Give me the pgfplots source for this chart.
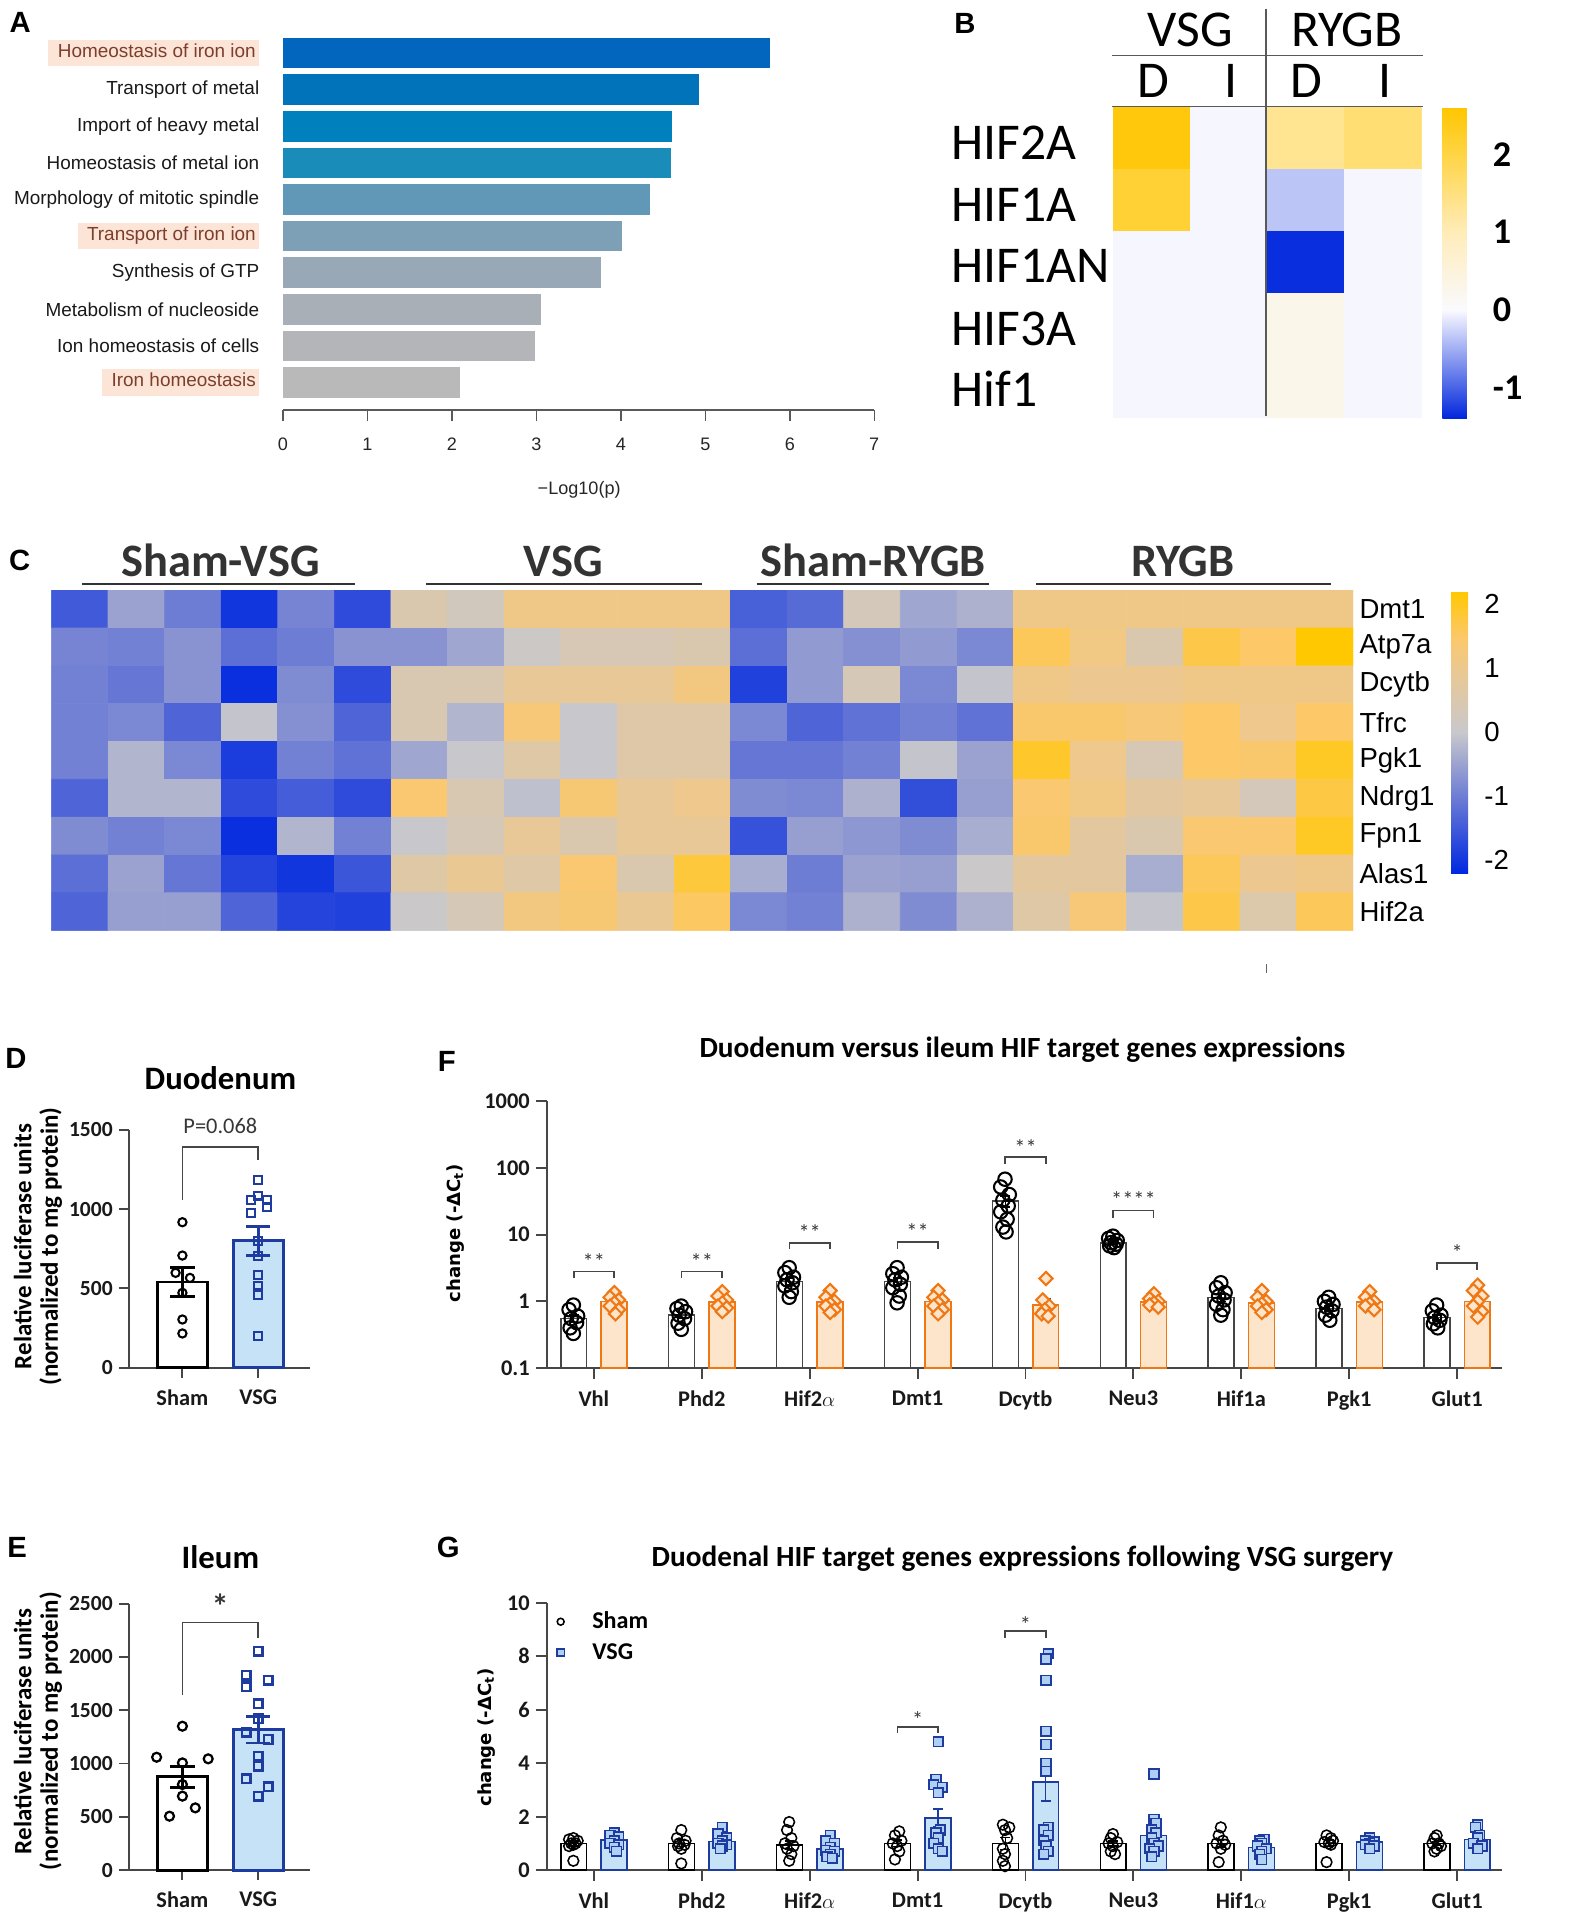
\documentclass[border=0pt]{standalone}
\usepackage{fontspec}
\setmainfont{Carlito}
\newfontfamily\arialf{Liberation Sans}
\newfontfamily\dejavu{DejaVu Sans}
\usepackage{pgfplots}
\pgfplotsset{compat=1.18}
\newcommand\fs[1]{\fontsize{#1}{#1}\selectfont}
\definecolor{peach}{RGB}{252,228,214}
\definecolor{hltext}{RGB}{125,62,45}
\definecolor{cA1}{RGB}{2,102,190}
\definecolor{cA2}{RGB}{0,115,186}
\definecolor{cA3}{RGB}{0,129,189}
\definecolor{cA4}{RGB}{26,140,185}
\definecolor{cA5}{RGB}{97,151,183}
\definecolor{cA6}{RGB}{126,160,183}
\definecolor{cA7}{RGB}{152,168,183}
\definecolor{cA8}{RGB}{168,175,183}
\definecolor{cA9}{RGB}{180,181,184}
\definecolor{cA10}{RGB}{185,185,185}
\definecolor{axgray}{RGB}{70,70,70}
\definecolor{txtgray}{RGB}{55,55,55}
\definecolor{forange}{RGB}{240,120,20}
\definecolor{ffill}{RGB}{253,229,204}
\definecolor{vsgblue}{RGB}{30,60,160}
\definecolor{vsgfill}{RGB}{198,226,247}
\definecolor{vsgmark}{RGB}{175,208,243}
\newcommand\hlbox[1]{{\setlength{\fboxsep}{2pt}\colorbox{peach}{\hspace{3.5pt}\color{hltext}\strut #1}\hspace{-2pt}}}
\begin{document}
\begin{tikzpicture}
\path[use as bounding box] (0,0) rectangle (32.03375cm,-39.2cm);
\begin{scope}[x=0.25mm,y=-0.25mm]
\coordinate (Apos) at (231,334.9);
\coordinate (Bpos) at (909,341);
\coordinate (Cpos) at (42,760);
\coordinate (Dpos) at (105,1117);
\coordinate (Epos) at (105,1527.3);
\coordinate (Fpos) at (446.4,1117.2);
\coordinate (Gpos) at (446.4,1527.3);
\end{scope}

%%%%%%%%%%%%%%%% A
\begin{axis}[at={(Apos)}, anchor=south west, scale only axis,
  width=120.75mm, height=76.625mm,
  xmin=0, xmax=7, ymin=0.25, ymax=10.5,
  axis x line*=bottom, axis y line*=left,
  y axis line style={draw=none},
  x axis line style={draw=black!65, line width=0.9pt},
  xtick={0,1,2,3,4,5,6,7}, xticklabels={0,1,2,3,4,5,6,7},
  ytick={1,2,3,4,5,6,7,8,9,10},
  yticklabels={\hlbox{Iron homeostasis},Ion homeostasis of cells,Metabolism of nucleoside,Synthesis of GTP,\hlbox{Transport of iron ion},Morphology of mitotic spindle,Homeostasis of metal ion,Import of heavy metal,Transport of metal,\hlbox{Homeostasis of iron ion}},
  tick align=outside, major tick length=2.25mm,
  xtick style={draw=black!65, line width=0.9pt}, ytick style={draw=none},
  xticklabel style={font=\arialf\fs{10.5}, text=black!85, yshift=-2.25mm},
  yticklabel style={font=\arialf\fs{11}, text=black!90, anchor=east, inner sep=0pt, xshift=-2.5mm},
  clip=false]
\addplot[xbar, bar shift=0pt, bar width=0.836, fill=cA10, draw=none] coordinates {(2.10,1)};
\addplot[xbar, bar shift=0pt, bar width=0.836, fill=cA9, draw=none] coordinates {(2.99,2)};
\addplot[xbar, bar shift=0pt, bar width=0.836, fill=cA8, draw=none] coordinates {(3.06,3)};
\addplot[xbar, bar shift=0pt, bar width=0.836, fill=cA7, draw=none] coordinates {(3.77,4)};
\addplot[xbar, bar shift=0pt, bar width=0.836, fill=cA6, draw=none] coordinates {(4.01,5)};
\addplot[xbar, bar shift=0pt, bar width=0.836, fill=cA5, draw=none] coordinates {(4.35,6)};
\addplot[xbar, bar shift=0pt, bar width=0.836, fill=cA4, draw=none] coordinates {(4.59,7)};
\addplot[xbar, bar shift=0pt, bar width=0.836, fill=cA3, draw=none] coordinates {(4.61,8)};
\addplot[xbar, bar shift=0pt, bar width=0.836, fill=cA2, draw=none] coordinates {(4.93,9)};
\addplot[xbar, bar shift=0pt, bar width=0.836, fill=cA1, draw=none] coordinates {(5.77,10)};
\end{axis}

%%%%%%%%%%%%%%%% B
\begin{axis}[at={(Bpos)}, anchor=south west, scale only axis,
  width=63mm, height=63.25mm,
  xmin=-0.5, xmax=3.5, ymin=-0.5, ymax=4.5, y dir=reverse,
  xtick=\empty, ytick=\empty, axis line style={draw=none},
  point meta min=-1.4, point meta max=2.6,
  colormap={bmap}{rgb255(0cm)=(0,38,220); rgb255(14cm)=(250,250,255); rgb255(24cm)=(255,236,185); rgb255(40cm)=(255,198,0)},
  colorbar,
  colorbar style={at={(parent axis.north east)}, anchor=north west, xshift=1.25mm,
    scale only axis, width=5.75mm, height=63.5mm, y dir=normal,
    axis line style={draw=none}, major tick length=0pt, ytick style={draw=none},
    ytick={-1,0,1,2}, yticklabels={-1,0,1,2},
    yticklabel style={font=\bfseries\fs{21}, anchor=west, inner sep=0pt, xshift=4.5mm}}]
\addplot[matrix plot*, mesh/cols=4, point meta=explicit] coordinates {
(0,0)[2.5] (1,0)[-0.02] (2,0)[1.35] (3,0)[1.6]
(0,1)[2.15] (1,1)[-0.02] (2,1)[-0.35] (3,1)[-0.02]
(0,2)[-0.02] (1,2)[-0.02] (2,2)[-1.35] (3,2)[-0.02]
(0,3)[-0.02] (1,3)[-0.02] (2,3)[0.3] (3,3)[-0.02]
(0,4)[-0.02] (1,4)[-0.02] (2,4)[0.3] (3,4)[-0.02]
};
\end{axis}

%%%%%%%%%%%%%%%% C
\begin{axis}[at={(Cpos)}, anchor=south west, scale only axis,
  width=265.75mm, height=69.5mm,
  xmin=-0.5, xmax=22.5, ymin=-0.5, ymax=8.5, y dir=reverse,
  axis line style={draw=none}, xtick=\empty,
  ytick={0,1,2,3,4,5,6,7,8}, yticklabels={Dmt1,Atp7a,Dcytb,Tfrc,Pgk1,Ndrg1,Fpn1,Alas1,Hif2a},
  yticklabel pos=right, ytick style={draw=none}, major tick length=0pt,
  yticklabel style={font=\arialf\fs{16}, anchor=west, inner sep=0pt, xshift=1.25mm},
  point meta min=-2.2, point meta max=2.2,
  colormap={cmap}{rgb255(0cm)=(0,40,224); rgb255(12cm)=(110,125,212); rgb255(22cm)=(200,200,204); rgb255(32cm)=(236,200,144); rgb255(37cm)=(252,200,104); rgb255(44cm)=(255,200,0)},
  colorbar,
  colorbar style={at={(parent axis.north east)}, anchor=north west, xshift=17mm, yshift=-0.25mm,
    scale only axis, width=3.5mm, height=57.5mm, y dir=normal,
    axis line style={draw=none}, major tick length=0pt, ytick style={draw=none},
    ytick={-2,-1,0,1,2}, yticklabels={-2,-1,0,1,2},
    yticklabel style={font=\arialf\fs{16}, anchor=west, inner sep=0pt, xshift=3.25mm}}]
\addplot[matrix plot*, mesh/cols=23, point meta=explicit] coordinates {
(0,0)[-1.5] (1,0)[-0.5] (2,0)[-1.0] (3,0)[-2.0] (4,0)[-0.9] (5,0)[-1.7] (6,0)[0.5] (7,0)[0.25] (8,0)[1.1] (9,0)[1.1] (10,0)[1.1] (11,0)[1.1] (12,0)[-1.4] (13,0)[-1.25] (14,0)[0.3] (15,0)[-0.45] (16,0)[-0.3] (17,0)[1.1] (18,0)[1.1] (19,0)[1.1] (20,0)[1.1] (21,0)[1.1] (22,0)[1.1]
(0,1)[-0.9] (1,1)[-0.95] (2,1)[-0.7] (3,1)[-1.2] (4,1)[-1.0] (5,1)[-0.7] (6,1)[-0.7] (7,1)[-0.45] (8,1)[0.1] (9,1)[0.4] (10,1)[0.4] (11,1)[0.5] (12,1)[-1.2] (13,1)[-0.6] (14,1)[-0.75] (15,1)[-0.6] (16,1)[-0.85] (17,1)[1.6] (18,1)[1.15] (19,1)[0.5] (20,1)[1.7] (21,1)[1.5] (22,1)[2.2]
(0,2)[-0.95] (1,2)[-1.1] (2,2)[-0.7] (3,2)[-2.1] (4,2)[-0.8] (5,2)[-1.7] (6,2)[0.45] (7,2)[0.45] (8,2)[0.9] (9,2)[0.9] (10,2)[0.9] (11,2)[1.2] (12,2)[-1.85] (13,2)[-0.6] (14,2)[0.35] (15,2)[-0.85] (16,2)[-0.05] (17,2)[1.1] (18,2)[1.0] (19,2)[1.0] (20,2)[1.1] (21,2)[1.1] (22,2)[1.1]
(0,3)[-0.95] (1,3)[-0.85] (2,3)[-1.35] (3,3)[-0.05] (4,3)[-0.75] (5,3)[-1.35] (6,3)[0.45] (7,3)[-0.25] (8,3)[1.3] (9,3)[0.0] (10,3)[0.6] (11,3)[0.6] (12,3)[-0.85] (13,3)[-1.35] (14,3)[-1.15] (15,3)[-0.95] (16,3)[-1.15] (17,3)[1.45] (18,3)[1.45] (19,3)[1.3] (20,3)[1.5] (21,3)[1.05] (22,3)[1.5]
(0,4)[-0.95] (1,4)[-0.25] (2,4)[-0.85] (3,4)[-1.9] (4,4)[-0.95] (5,4)[-1.15] (6,4)[-0.45] (7,4)[0.0] (8,4)[0.65] (9,4)[0.0] (10,4)[0.6] (11,4)[0.6] (12,4)[-1.1] (13,4)[-1.1] (14,4)[-0.95] (15,4)[-0.05] (16,4)[-0.5] (17,4)[1.9] (18,4)[1.05] (19,4)[0.4] (20,4)[1.5] (21,4)[1.45] (22,4)[1.95]
(0,5)[-1.35] (1,5)[-0.25] (2,5)[-0.25] (3,5)[-1.7] (4,5)[-1.45] (5,5)[-1.7] (6,5)[1.4] (7,5)[0.45] (8,5)[-0.1] (9,5)[1.35] (10,5)[0.9] (11,5)[1.05] (12,5)[-0.8] (13,5)[-0.85] (14,5)[-0.3] (15,5)[-1.65] (16,5)[-0.55] (17,5)[1.4] (18,5)[1.15] (19,5)[0.75] (20,5)[0.9] (21,5)[0.3] (22,5)[1.75]
(0,6)[-0.8] (1,6)[-0.95] (2,6)[-0.85] (3,6)[-2.1] (4,6)[-0.25] (5,6)[-0.95] (6,6)[0.0] (7,6)[0.35] (8,6)[0.9] (9,6)[0.5] (10,6)[0.9] (11,6)[0.9] (12,6)[-1.6] (13,6)[-0.55] (14,6)[-0.65] (15,6)[-0.8] (16,6)[-0.35] (17,6)[1.45] (18,6)[0.75] (19,6)[0.5] (20,6)[1.4] (21,6)[1.4] (22,6)[1.95]
(0,7)[-1.2] (1,7)[-0.5] (2,7)[-1.1] (3,7)[-1.8] (4,7)[-2.0] (5,7)[-1.55] (6,7)[0.65] (7,7)[0.95] (8,7)[0.65] (9,7)[1.4] (10,7)[0.5] (11,7)[1.8] (12,7)[-0.35] (13,7)[-1.0] (14,7)[-0.5] (15,7)[-0.55] (16,7)[0.05] (17,7)[0.75] (18,7)[0.75] (19,7)[-0.35] (20,7)[1.6] (21,7)[1.0] (22,7)[1.1]
(0,8)[-1.35] (1,8)[-0.55] (2,8)[-0.55] (3,8)[-1.35] (4,8)[-1.8] (5,8)[-1.85] (6,8)[0.05] (7,8)[0.35] (8,8)[1.2] (9,8)[1.35] (10,8)[0.95] (11,8)[1.55] (12,8)[-0.85] (13,8)[-0.95] (14,8)[-0.3] (15,8)[-0.8] (16,8)[-0.3] (17,8)[0.65] (18,8)[1.3] (19,8)[-0.05] (20,8)[1.7] (21,8)[0.55] (22,8)[1.6]
};
\end{axis}

%%%%%%%%%%%%%%%% D
\begin{axis}[at={(Dpos)}, anchor=south west, scale only axis,
  width=37mm, height=48.6mm, xmin=-0.71, xmax=1.68, ymin=0, ymax=1500,
  axis lines*=left, axis line style={line width=1.1pt, draw=axgray},
  xtick={0,1}, xticklabels={Sham,VSG},
  ytick={0,500,1000,1500}, yticklabels={0,500,1000,1500},
  tick align=outside, major tick length=2mm,
  tick style={line width=1.1pt, draw=axgray},
  yticklabel style={font=\bfseries\fs{12.5}, text=black!90},
  xticklabel style={font=\bfseries\fs{13}, text=black!90, yshift=-1.25mm},
  clip=false]
\addplot[ybar, bar shift=0pt, bar width=0.66, fill=white, draw=black, line width=1.6pt,
  error bars/.cd, y dir=both, y explicit,
  error bar style={line width=1.6pt, draw=black},
  error mark options={rotate=90, line width=1.6pt, mark size=2.5mm, draw=black}]
  coordinates {(0,540) +- (0,90)};
\addplot[ybar, bar shift=0pt, bar width=0.66, fill=vsgfill, draw=vsgblue, line width=1.6pt,
  error bars/.cd, y dir=both, y explicit,
  error bar style={line width=1.6pt, draw=vsgblue},
  error mark options={rotate=90, line width=1.6pt, mark size=2.5mm, draw=vsgblue}]
  coordinates {(1,800) +- (0,92)};
\addplot[only marks, mark=o, mark size=2.4pt, black, line width=1.2pt] coordinates {(0,917) (0,707) (-0.09,598) (0.1,566) (0,472) (0,304) (0,216)};
\addplot[only marks, mark=square, mark size=2.3pt, vsgblue, line width=1.2pt] coordinates {(1,1185) (0.9,1059) (1,1085) (1.11,1059) (1.11,1010) (0.9,975) (1,797) (1,703) (1,587) (1,518) (1,461) (1,199)};
\draw[axgray, line width=1pt] (axis cs:0,1057) -- (axis cs:0,1389) -- (axis cs:1,1389) -- (axis cs:1,1312);
\node[font=\fs{13}, text=txtgray] at (axis cs:0.5,1525) {P=0.068};
\end{axis}

%%%%%%%%%%%%%%%% E
\begin{axis}[at={(Epos)}, anchor=south west, scale only axis,
  width=37mm, height=54.425mm, xmin=-0.71, xmax=1.68, ymin=0, ymax=2500,
  axis lines*=left, axis line style={line width=1.1pt, draw=axgray},
  xtick={0,1}, xticklabels={Sham,VSG},
  ytick={0,500,1000,1500,2000,2500}, yticklabels={0,500,1000,1500,2000,2500},
  tick align=outside, major tick length=2mm,
  tick style={line width=1.1pt, draw=axgray},
  yticklabel style={font=\bfseries\fs{12.5}, text=black!90},
  xticklabel style={font=\bfseries\fs{13}, text=black!90, yshift=-1.25mm},
  clip=false]
\addplot[ybar, bar shift=0pt, bar width=0.66, fill=white, draw=black, line width=1.6pt,
  error bars/.cd, y dir=both, y explicit,
  error bar style={line width=1.6pt, draw=black},
  error mark options={rotate=90, line width=1.6pt, mark size=2.5mm, draw=black}]
  coordinates {(0,875) +- (0,100)};
\addplot[ybar, bar shift=0pt, bar width=0.66, fill=vsgfill, draw=vsgblue, line width=1.6pt,
  error bars/.cd, y dir=both, y explicit,
  error bar style={line width=1.6pt, draw=vsgblue},
  error mark options={rotate=90, line width=1.6pt, mark size=2.5mm, draw=vsgblue}]
  coordinates {(1,1318) +- (0,125)};
\addplot[only marks, mark=o, mark size=2.6pt, black, line width=1.3pt] coordinates {(0,1350) (-0.34,1059) (0,1006) (0.34,1044) (0,803) (0,694) (0.17,584) (-0.17,506)};
\addplot[only marks, mark=square, mark size=2.5pt, vsgblue, line width=1.3pt] coordinates {(1,2053) (0.84,1828) (1.13,1781) (0.84,1719) (1,1559) (1,1422) (0.84,1294) (1.13,1225) (1,1069) (1,975) (0.84,856) (1.13,781) (1,694)};
\draw[axgray, line width=1pt] (axis cs:0,1646) -- (axis cs:0,2323) -- (axis cs:1,2323) -- (axis cs:1,2178);
\node[font=\bfseries\fs{20}, text=txtgray] at (axis cs:0.5,2480) {*};
\end{axis}

%%%%%%%%%%%%%%%% F
\begin{axis}[at={(Fpos)}, anchor=south west, scale only axis,
  width=195.15mm, height=54.425mm,
  ymode=log, log origin=infty, ymin=0.1, ymax=1000,
  xmin=-0.438, xmax=8.42,
  axis lines*=left, axis line style={line width=1.1pt, draw=axgray},
  xtick={0,1,2,3,4,5,6,7,8}, xticklabels={Vhl,Phd2,Hif2$\alpha$,Dmt1,Dcytb,Neu3,Hif1a,Pgk1,Glut1},
  ytick={0.1,1,10,100,1000}, yticklabels={0.1,1,10,100,1000},
  yminorticks=false,
  tick align=outside, major tick length=2.2mm, tick style={line width=1.1pt, draw=axgray},
  yticklabel style={font=\bfseries\fs{13}, text=black!90},
  xticklabel style={font=\bfseries\fs{13}, text=black!90, yshift=-1.25mm},
  clip=false]
\addplot[ybar, bar shift=0pt, bar width=0.24, fill=white, draw=axgray, line width=0.9pt,
  error bars/.cd, y dir=both, y explicit,
  error bar style={line width=0.9pt, draw=black},
  error mark options={rotate=90, line width=0.9pt, mark size=1mm, draw=black}]
  coordinates {(-0.187,0.55) +- (0,0.07) (0.813,0.62) +- (0,0.06) (1.813,2.0) +- (0,0.25) (2.813,2.0) +- (0,0.25) (3.813,32) +- (0,6) (4.813,7.5) +- (0,0.4) (5.813,1.15) +- (0,0.15) (6.813,0.78) +- (0,0.07) (7.813,0.57) +- (0,0.05)};
\addplot[ybar, bar shift=0pt, bar width=0.24, fill=ffill, draw=forange, line width=0.9pt,
  error bars/.cd, y dir=both, y explicit,
  error bar style={line width=0.9pt, draw=axgray},
  error mark options={rotate=90, line width=0.9pt, mark size=1mm, draw=axgray}]
  coordinates {(0.187,1.0) +- (0,0.08) (1.187,0.98) +- (0,0.08) (2.187,0.98) +- (0,0.08) (3.187,1.0) +- (0,0.08) (4.187,0.88) +- (0,0.2) (5.187,0.98) +- (0,0.06) (6.187,0.95) +- (0,0.08) (7.187,0.97) +- (0,0.07) (8.187,1.0) +- (0,0.14)};
\addplot[only marks, mark=o, mark size=3.9pt, black, line width=1.2pt] coordinates {
(-0.19,0.88) (-0.23,0.75) (-0.15,0.6) (-0.21,0.55) (-0.16,0.48) (-0.22,0.4) (-0.19,0.33)
(0.81,0.85) (0.77,0.78) (0.85,0.7) (0.79,0.62) (0.84,0.55) (0.78,0.47) (0.81,0.38)
(1.81,3.2) (1.77,2.7) (1.85,2.3) (1.79,2.1) (1.84,1.9) (1.77,1.7) (1.83,1.4) (1.81,1.15)
(2.81,3.2) (2.77,2.6) (2.85,2.3) (2.79,2.1) (2.84,1.8) (2.77,1.6) (2.83,1.2) (2.81,0.95)
(3.81,68) (3.77,52) (3.85,40) (3.79,33) (3.84,27) (3.77,22) (3.83,17) (3.79,13) (3.82,11)
(4.81,9.5) (4.77,8.8) (4.85,8.2) (4.79,7.6) (4.84,7.2) (4.78,6.8) (4.82,6.4)
(5.81,1.9) (5.77,1.6) (5.85,1.35) (5.79,1.2) (5.84,1.05) (5.77,0.9) (5.83,0.75) (5.81,0.62)
(6.81,1.15) (6.77,1.0) (6.85,0.9) (6.79,0.82) (6.84,0.72) (6.78,0.62) (6.82,0.52)
(7.81,0.88) (7.77,0.72) (7.85,0.62) (7.79,0.57) (7.84,0.52) (7.78,0.46) (7.82,0.4)};
\addplot[only marks, mark=square*, mark size=2.7pt, line width=1.2pt, mark options={rotate=45, draw=forange, fill=ffill}] coordinates {
(0.19,1.35) (0.15,1.15) (0.23,1.05) (0.19,0.95) (0.15,0.85) (0.23,0.75) (0.2,0.65)
(1.19,1.4) (1.15,1.2) (1.23,1.05) (1.19,0.95) (1.15,0.85) (1.23,0.8) (1.19,0.7)
(2.19,1.45) (2.15,1.15) (2.23,1.0) (2.19,0.92) (2.15,0.85) (2.23,0.75) (2.19,0.68)
(3.19,1.45) (3.15,1.15) (3.23,1.05) (3.19,0.95) (3.15,0.85) (3.23,0.75) (3.19,0.65)
(4.19,2.2) (4.16,1.05) (4.22,0.85) (4.18,0.75) (4.15,0.65) (4.21,0.6)
(5.19,1.3) (5.15,1.1) (5.23,1.0) (5.19,0.95) (5.15,0.88) (5.23,0.82)
(6.19,1.45) (6.15,1.15) (6.23,1.0) (6.19,0.92) (6.15,0.85) (6.23,0.75) (6.19,0.68)
(7.19,1.4) (7.15,1.15) (7.23,1.0) (7.19,0.92) (7.15,0.85) (7.23,0.75)
(8.19,1.75) (8.15,1.45) (8.23,1.2) (8.19,1.0) (8.15,0.85) (8.23,0.7) (8.19,0.58)};
\draw[axgray, line width=1pt] (axis cs:-0.187,2.25) -- (axis cs:-0.187,2.8) -- (axis cs:0.187,2.8) -- (axis cs:0.187,2.25);
\draw[axgray, line width=1pt] (axis cs:0.813,2.25) -- (axis cs:0.813,2.8) -- (axis cs:1.187,2.8) -- (axis cs:1.187,2.25);
\draw[axgray, line width=1pt] (axis cs:1.813,6.1) -- (axis cs:1.813,7.6) -- (axis cs:2.187,7.6) -- (axis cs:2.187,6.1);
\draw[axgray, line width=1pt] (axis cs:2.813,6.2) -- (axis cs:2.813,7.7) -- (axis cs:3.187,7.7) -- (axis cs:3.187,6.2);
\draw[axgray, line width=1pt] (axis cs:3.813,117) -- (axis cs:3.813,147) -- (axis cs:4.187,147) -- (axis cs:4.187,117);
\draw[axgray, line width=1pt] (axis cs:4.813,18) -- (axis cs:4.813,23) -- (axis cs:5.187,23) -- (axis cs:5.187,18);
\draw[axgray, line width=1pt] (axis cs:7.813,3.0) -- (axis cs:7.813,3.8) -- (axis cs:8.187,3.8) -- (axis cs:8.187,3.0);
\node[font=\fs{13}, text=txtgray] at (axis cs:0,4.0) {**};
\node[font=\fs{13}, text=txtgray] at (axis cs:1,4.0) {**};
\node[font=\fs{13}, text=txtgray] at (axis cs:2,10.8) {**};
\node[font=\fs{13}, text=txtgray] at (axis cs:3,11) {**};
\node[font=\fs{13}, text=txtgray] at (axis cs:4,205) {**};
\node[font=\fs{13}, text=txtgray] at (axis cs:5,34) {****};
\node[font=\fs{13}, text=txtgray] at (axis cs:8,5.4) {*};
\end{axis}

%%%%%%%%%%%%%%%% G
\begin{axis}[at={(Gpos)}, anchor=south west, scale only axis,
  width=195.15mm, height=54.575mm,
  ymin=0, ymax=10, xmin=-0.438, xmax=8.42,
  axis lines*=left, axis line style={line width=1.1pt, draw=axgray},
  xtick={0,1,2,3,4,5,6,7,8}, xticklabels={Vhl,Phd2,Hif2$\alpha$,Dmt1,Dcytb,Neu3,Hif1$\alpha$,Pgk1,Glut1},
  ytick={0,2,4,6,8,10}, yticklabels={0,2,4,6,8,10},
  tick align=outside, major tick length=2.2mm, tick style={line width=1.1pt, draw=axgray},
  yticklabel style={font=\bfseries\fs{13}, text=black!90},
  xticklabel style={font=\bfseries\fs{13}, text=black!90, yshift=-1.25mm},
  legend style={draw=none, fill=none, at={(0.0033,0.98)}, anchor=north west, font=\bfseries\fs{14}, legend cell align=left, row sep=1mm, inner sep=0pt},
  legend image code/.code={\path (0cm,0cm) (0.76cm,0cm); \draw[#1] plot coordinates {(0.2cm,0cm)};},
  clip=false]
\addplot[forget plot, ybar, bar shift=0pt, bar width=0.24, fill=white, draw=black, line width=0.9pt,
  error bars/.cd, y dir=both, y explicit,
  error bar style={line width=0.9pt, draw=black},
  error mark options={rotate=90, line width=0.9pt, mark size=1mm, draw=black}]
  coordinates {(-0.187,1.0) +- (0,0.1) (0.813,1.0) +- (0,0.12) (1.813,0.95) +- (0,0.15) (2.813,1.0) +- (0,0.12) (3.813,1.0) +- (0,0.22) (4.813,1.0) +- (0,0.1) (5.813,1.0) +- (0,0.14) (6.813,1.0) +- (0,0.12) (7.813,1.0) +- (0,0.08)};
\addplot[forget plot, ybar, bar shift=0pt, bar width=0.24, fill=vsgfill, draw=vsgblue, line width=0.9pt,
  error bars/.cd, y dir=both, y explicit,
  error bar style={line width=0.9pt, draw=vsgblue},
  error mark options={rotate=90, line width=0.9pt, mark size=1mm, draw=vsgblue}]
  coordinates {(0.187,1.12) +- (0,0.09) (1.187,1.08) +- (0,0.08) (2.187,0.8) +- (0,0.09) (3.187,1.95) +- (0,0.33) (4.187,3.3) +- (0,0.72) (5.187,1.3) +- (0,0.22) (6.187,0.85) +- (0,0.09) (7.187,1.05) +- (0,0.05) (8.187,1.15) +- (0,0.12)};
\addplot[forget plot, only marks, mark=o, mark size=3.1pt, black, line width=0.9pt] coordinates {
(-0.19,1.2) (-0.23,1.15) (-0.15,1.1) (-0.21,1.0) (-0.17,1.0) (-0.19,0.95) (-0.23,0.9) (-0.19,0.35)
(0.81,1.5) (0.77,1.2) (0.85,1.1) (0.79,1.0) (0.84,0.95) (0.78,0.9) (0.81,0.8) (0.81,0.25)
(1.81,1.8) (1.79,1.5) (1.83,1.2) (1.77,1.0) (1.85,0.9) (1.79,0.8) (1.83,0.6) (1.81,0.35)
(2.83,1.45) (2.79,1.3) (2.85,1.1) (2.77,1.0) (2.81,0.9) (2.83,0.7) (2.79,0.4)
(3.79,1.7) (3.85,1.6) (3.81,1.5) (3.83,1.2) (3.79,0.8) (3.81,0.6) (3.79,0.35) (3.81,0.15)
(4.81,1.35) (4.79,1.2) (4.85,1.05) (4.77,1.0) (4.81,0.9) (4.79,0.7) (4.83,0.6)
(5.81,1.6) (5.79,1.3) (5.83,1.1) (5.77,1.0) (5.85,0.95) (5.81,0.8) (5.79,0.3)
(6.79,1.3) (6.83,1.2) (6.85,1.1) (6.77,1.05) (6.81,1.0) (6.83,0.95) (6.79,0.3)
(7.81,1.3) (7.79,1.2) (7.83,1.0) (7.77,1.0) (7.85,0.9) (7.81,0.8) (7.79,0.7)};
\addplot[forget plot, only marks, mark=square*, mark size=2.8pt, line width=0.9pt, mark options={draw=vsgblue, fill=vsgmark}] coordinates {
(0.19,1.4) (0.15,1.3) (0.23,1.25) (0.19,1.1) (0.15,1.0) (0.23,0.95) (0.19,0.85) (0.21,0.7)
(1.19,1.6) (1.15,1.35) (1.23,1.2) (1.19,1.1) (1.15,1.0) (1.23,0.95) (1.19,0.9) (1.17,0.8)
(2.19,1.3) (2.15,1.1) (2.23,1.0) (2.19,0.85) (2.15,0.75) (2.23,0.7) (2.19,0.6) (2.16,0.5) (2.21,0.45)
(3.19,4.8) (3.17,3.4) (3.15,3.2) (3.23,3.1) (3.19,2.9) (3.21,1.5) (3.17,1.4) (3.19,1.2) (3.15,1.0) (3.19,0.8) (3.23,0.7)
(4.21,8.1) (4.19,7.9) (4.19,7.1) (4.19,5.2) (4.19,4.7) (4.19,4.0) (4.19,3.7) (4.21,1.6) (4.17,1.5) (4.21,1.3) (4.17,1.1) (4.19,0.9) (4.21,0.7) (4.17,0.6)
(5.19,3.6) (5.19,1.9) (5.21,1.75) (5.17,1.5) (5.21,1.4) (5.17,1.2) (5.19,1.0) (5.23,0.9) (5.15,0.8) (5.19,0.7) (5.17,0.5)
(6.21,1.15) (6.17,1.1) (6.19,1.0) (6.15,0.9) (6.23,0.8) (6.19,0.7) (6.17,0.6) (6.19,0.4)
(7.19,1.2) (7.15,1.1) (7.23,1.05) (7.19,1.0) (7.15,0.95) (7.23,0.9) (7.19,0.8)
(8.19,1.7) (8.17,1.6) (8.21,1.3) (8.19,1.2) (8.15,1.0) (8.23,0.9) (8.19,0.8)};
\addlegendimage{only marks, mark=o, mark size=2pt, black, line width=0.9pt}
\addlegendentry{Sham}
\addlegendimage{only marks, mark=square*, mark size=2.1pt, line width=0.9pt, mark options={draw=vsgblue, fill=vsgmark}}
\addlegendentry{VSG}
\draw[axgray, line width=1pt] (axis cs:2.813,5.12) -- (axis cs:2.813,5.36) -- (axis cs:3.187,5.36) -- (axis cs:3.187,5.12);
\draw[axgray, line width=1pt] (axis cs:3.813,8.7) -- (axis cs:3.813,8.94) -- (axis cs:4.187,8.94) -- (axis cs:4.187,8.7);
\node[font=\fs{13}, text=txtgray] at (axis cs:3,5.62) {*};
\node[font=\fs{13}, text=txtgray] at (axis cs:4,9.2) {*};
\end{axis}

%%%%%%%%%%%%%%%% annotations
\begin{scope}[x=0.25mm,y=-0.25mm]
\node[font=\arialf\bfseries\fs{17}] at (16.5,18.5) {A};
\node[font=\arialf\bfseries\fs{17}] at (788,19.5) {B};
\node[font=\arialf\bfseries\fs{17}] at (16,458) {C};
\node[font=\arialf\bfseries\fs{17}] at (13,864) {D};
\node[font=\arialf\bfseries\fs{17}] at (14,1264) {E};
\node[font=\arialf\bfseries\fs{17}] at (365,867) {F};
\node[font=\arialf\bfseries\fs{17}] at (366,1264) {G};
\node[font=\arialf\fs{10.5}, text=black!85] at (473,400) {−Log10(p)};
\draw[black!65, line width=0.9pt] (908,45.5) -- (1162,45.5);
\draw[black!65, line width=0.9pt] (908,87) -- (1162,87);
\draw[black!65, line width=0.9pt] (1034,7) -- (1034,340);
\node[font=\fs{30}, anchor=base] at (972,38) {VSG};
\node[font=\fs{30}, anchor=base] at (1100,38) {RYGB};
\node[font=\fs{30}, anchor=base] at (942,80) {D};
\node[font=\fs{30}, anchor=base] at (1005,80) {I};
\node[font=\fs{30}, anchor=base] at (1067,80) {D};
\node[font=\fs{30}, anchor=base] at (1131,80) {I};
\node[font=\fs{30}, anchor=base west, inner sep=0pt] at (777,130) {HIF2A};
\node[font=\fs{30}, anchor=base west, inner sep=0pt] at (777,181) {HIF1A};
\node[font=\fs{30}, anchor=base west, inner sep=0pt] at (777,231) {HIF1AN};
\node[font=\fs{30}, anchor=base west, inner sep=0pt] at (777,282) {HIF3A};
\node[font=\fs{30}, anchor=base west, inner sep=0pt] at (777,332) {Hif1};
\node[font=\bfseries\fs{27}, text=black!80, anchor=base] at (180,471) {Sham-VSG};
\node[font=\bfseries\fs{27}, text=black!80, anchor=base] at (460,471) {VSG};
\node[font=\bfseries\fs{27}, text=black!80, anchor=base] at (713,471) {Sham-RYGB};
\node[font=\bfseries\fs{27}, text=black!80, anchor=base] at (966,471) {RYGB};
\draw[black!80, line width=1.3pt] (67,477) -- (290,477);
\draw[black!80, line width=1.3pt] (348,477) -- (573,477);
\draw[black!80, line width=1.3pt] (618,477) -- (808,477);
\draw[black!80, line width=1.3pt] (846,477) -- (1087,477);
\draw[black!60, line width=0.6pt] (1034,787) -- (1034,795);
\node[font=\bfseries\fs{19}, anchor=base] at (180,890) {Duodenum};
\node[font=\bfseries\fs{19}, anchor=base] at (180,1281) {Ileum};
\node[font=\bfseries\fontsize{14.5}{15.5}\selectfont, rotate=90, align=center] at (31,1018) {Relative luciferase units\\(normalized to mg protein)};
\node[font=\bfseries\fontsize{14.5}{15.5}\selectfont, rotate=90, align=center] at (31,1414) {Relative luciferase units\\(normalized to mg protein)};
\node[font=\bfseries\fs{17}, anchor=base] at (835,864) {Duodenum versus ileum HIF target genes expressions};
\node[font=\bfseries\fs{17}, anchor=base] at (835,1279) {Duodenal HIF target genes expressions following VSG surgery};
\node[font=\dejavu\bfseries\fs{10.5}, rotate=90] at (372,1007) {change (-ΔC\textsubscript{t})};
\node[font=\dejavu\bfseries\fs{10.5}, rotate=90] at (397,1419) {change (-ΔC\textsubscript{t})};
\end{scope}
\end{tikzpicture}
\end{document}
